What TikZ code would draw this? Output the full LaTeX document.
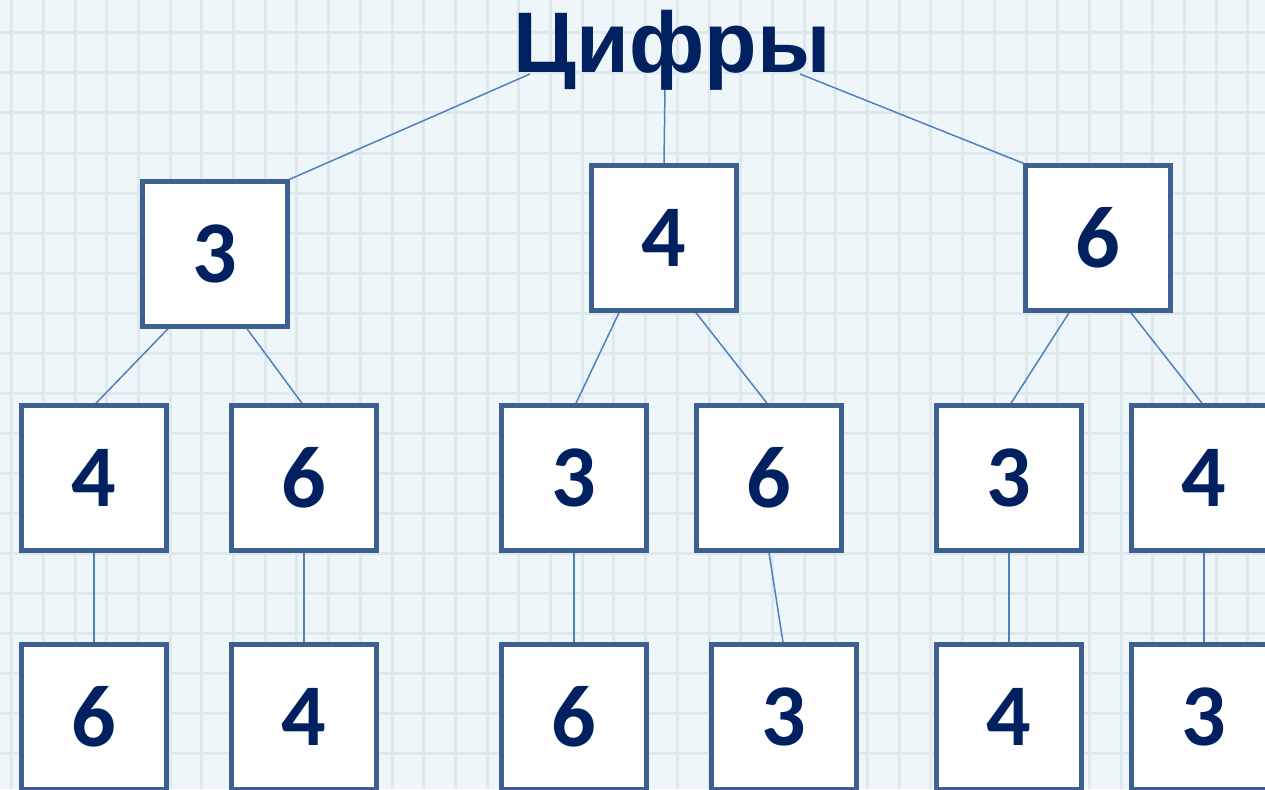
\documentclass[tikz,border=0pt]{standalone}
\usepackage{fontspec}
\setmainfont{Liberation Sans}
\newfontfamily\digitfont{Carlito}
\usetikzlibrary{calc}
\definecolor{navy}{RGB}{0,32,96}
\definecolor{boxline}{RGB}{62,96,145}
\definecolor{link}{RGB}{79,129,189}
\definecolor{paper}{RGB}{239,246,249}
\definecolor{ruling}{RGB}{221,233,237}
\pgfdeclarelayer{paperlayer}
\pgfdeclarelayer{linklayer}
\pgfsetlayers{paperlayer,linklayer,main}
\tikzset{
  digitbox/.style={draw=boxline, line width=4.5pt, fill=white, minimum size=145pt,
    inner sep=0pt, text=navy, font=\digitfont\bfseries\fontsize{88}{88}\selectfont},
  linkline/.style={draw=link, line width=1.5pt}
}
\begin{document}
\begin{tikzpicture}[x=1pt, y=-1pt]
\useasboundingbox (0,0) rectangle (1265,789);
\clip (0,0) rectangle (1265,789);
% squared paper
\begin{pgfonlayer}{paperlayer}
  \fill[paper] (0,0) rectangle (1265,789);
  \foreach \i in {0,...,40} {
    \draw[ruling, line width=3pt] ({11.6+31.7*\i},0) -- ({11.6+31.7*\i},789);
  }
  \foreach \j in {0,...,20} {
    \draw[ruling, line width=3pt] (0,{33+40*\j}) -- (1265,{33+40*\j});
  }
\end{pgfonlayer}

% heading
\node[anchor=base, text=navy, font=\bfseries\fontsize{86}{86}\selectfont] (title) at (672,73) {Цифры};

% first level
\node[digitbox] (a) at (215,254) {3};
\node[digitbox] (b) at (664,238) {4};
\node[digitbox] (c) at (1098,238) {6};

% second level
\node[digitbox] (a1) at (94,478) {4};
\node[digitbox] (a2) at (304,478) {6};
\node[digitbox] (b1) at (574,478) {3};
\node[digitbox] (b2) at (769,478) {6};
\node[digitbox] (c1) at (1009,478) {3};
\node[digitbox] (c2) at (1204,478) {4};

% third level
\node[digitbox] (a11) at (94,717) {6};
\node[digitbox] (a21) at (304,717) {4};
\node[digitbox] (b11) at (574,717) {6};
\node[digitbox] (b21) at (784,717) {3};
\node[digitbox] (c11) at (1009,717) {4};
\node[digitbox] (c21) at (1204,717) {3};

\begin{pgfonlayer}{linklayer}
  \draw[linkline] ([xshift=-142pt,yshift=-1pt]title.base) -- (a.north east);
  \draw[linkline] ([xshift=-7pt,yshift=-15pt]title.base) -- (b.north);
  \draw[linkline] ([xshift=128pt,yshift=-1pt]title.base) -- (c.north west);

  \draw[linkline] ([xshift=-47pt]a.south) -- ([xshift=2pt]a1.north);
  \draw[linkline] ([xshift=32pt]a.south) -- ([xshift=-2pt]a2.north);
  \draw[linkline] ([xshift=-45pt]b.south) -- ([xshift=2pt]b1.north);
  \draw[linkline] ([xshift=32pt]b.south) -- ([xshift=-2pt]b2.north);
  \draw[linkline] ([xshift=-29pt]c.south) -- ([xshift=2pt]c1.north);
  \draw[linkline] ([xshift=33pt]c.south) -- ([xshift=-2pt]c2.north);

  \draw[linkline] (a1.south) -- (a11.north);
  \draw[linkline] (a2.south) -- (a21.north);
  \draw[linkline] (b1.south) -- (b11.north);
  \draw[linkline] (b2.south) -- ([xshift=-1pt]b21.north);
  \draw[linkline] (c1.south) -- (c11.north);
  \draw[linkline] (c2.south) -- (c21.north);
\end{pgfonlayer}
\end{tikzpicture}
\end{document}
